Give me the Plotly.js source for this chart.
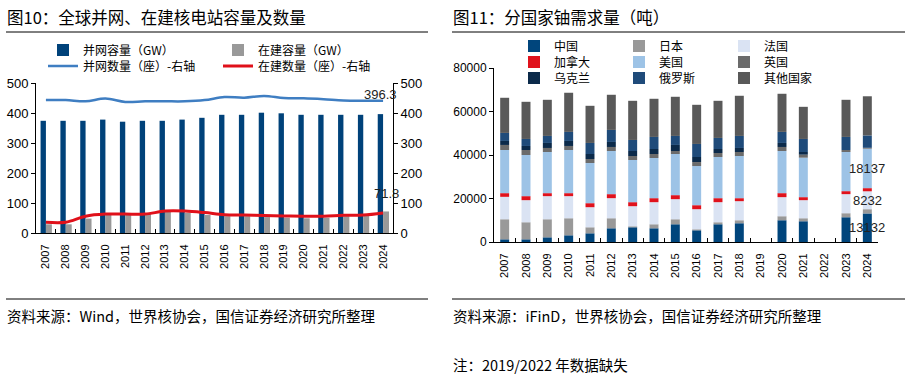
<!DOCTYPE html>
<html><head><meta charset="utf-8">
<script src="https://cdn.plot.ly/plotly-3.0.1.min.js"></script>
<style>html,body{margin:0;padding:0;background:#fff;} #chart{width:914px;height:378px;}</style>
</head><body><div id="chart"></div>
<script>
// ---------- Left chart data (图10) ----------
const years = ['2007','2008','2009','2010','2011','2012','2013','2014','2015','2016','2017','2018','2019','2020','2021','2022','2023','2024'];
const gridCapacityGW = [374,374,374,378,371,374,374,378,384,394,394,401,399,394,394,394,394,396.3];
const constructionCapacityGW = [29,29,48,63,63,63,70,67,60,56,56,53,51,49,51,56,59,71.8];
const gridReactors = [443,443,439,448,437,439,439,439,443,453,451,457,450,449,446,442,441,441];
const constructionReactors = [36,36,56,63,63,63,73,73,68,61,60,58,57,56,56,59,60,67];

// ---------- Right chart data (图11), tonnes ----------
const demandYears = years;
const china   = [1230,1230,2150,3080,4000,6310,6770,6310,8150,5380,8150,8620,null,10000,9540,null,11380,13132];
const japan   = [9230,7850,8310,7840,2770,4610,460,1840,2310,470,930,1380,null,1850,1380,null,1850,1950];
const france  = [10310,10150,10620,10160,9230,9230,9230,10160,9230,9230,9230,8770,null,8770,8310,null,8770,8232];
const canada  = [1690,1850,1380,1380,1850,1850,1850,1840,1850,1840,1840,1380,null,1840,1390,null,1380,1450];
const usa     = [19850,18920,18920,19850,18460,19850,19380,18470,18920,18000,18930,19390,null,19390,18150,null,18000,18137];
const uk      = [2310,2310,1850,1840,1840,1840,1850,1840,1390,1850,1840,1840,null,1840,1380,null,930,400];
const ukraine = [1840,1840,2310,2310,2310,2310,2310,2310,2770,2310,1850,1850,null,1850,1230,null,0,0];
const russia  = [3690,3230,3230,4160,5080,5540,5070,5540,4150,6000,5080,5540,null,5080,6000,null,6000,5700];
const others  = [16160,17080,16610,18000,17080,16150,18000,17540,18000,18000,17070,18460,null,17530,14770,null,17070,18000];
const countryNames = ['中国','日本','法国','加拿大','美国','英国','乌克兰','俄罗斯','其他国家'];

const CJK = '"Noto Sans CJK SC", "Noto Sans", sans-serif';
const NUM = '"Liberation Sans", Arial, sans-serif';
const W = 914, H = 378;
const px = v => v / W;
const py = v => 1 - v / H;

const traces = [];
// left bars
traces.push({type:'bar', name:'并网容量（GW）', x:years, y:gridCapacityGW, xaxis:'x', yaxis:'y',
  offset:-0.27, width:0.27, marker:{color:'#00427A'}, legend:'legend', hoverinfo:'skip'});
traces.push({type:'bar', name:'在建容量（GW）', x:years, y:constructionCapacityGW, xaxis:'x', yaxis:'y',
  offset:0, width:0.3, marker:{color:'#999999'}, legend:'legend', hoverinfo:'skip'});
traces.push({type:'scatter', mode:'lines', name:'并网数量（座）-右轴', x:years, y:gridReactors, xaxis:'x', yaxis:'y2',
  line:{color:'#3F7EC2', width:2.5, shape:'spline', smoothing:1}, legend:'legend3', hoverinfo:'skip'});
traces.push({type:'scatter', mode:'lines', name:'在建数量（座）-右轴', x:years, y:constructionReactors, xaxis:'x', yaxis:'y2',
  line:{color:'#E0101A', width:3, shape:'spline', smoothing:1}, legend:'legend3', hoverinfo:'skip'});

// right stacked bars (stack built with base from the series)
const series = [china, japan, france, canada, usa, uk, ukraine, russia, others];
const colors = ['#00457C','#999999','#DAE3F3','#E0121C','#9DC3E6','#6B6B6B','#0B2A4A','#1F4B7A','#595959'];
const legendFor = ['legend2','legend2','legend2','legend4','legend4','legend4','legend5','legend5','legend5'];
let cum = demandYears.map(() => 0);
const bases = [];
series.forEach((s, i) => {
  const base = cum.slice();
  bases.push(base);
  traces.push({type:'bar', name:countryNames[i], x:demandYears,
    y:s, base:s.map((v, j) => v === null ? null : base[j]),
    xaxis:'x3', yaxis:'y3', width:0.42, marker:{color:colors[i]}, legend:legendFor[i], hoverinfo:'skip'});
  cum = cum.map((c, j) => c + (s[j] || 0));
});

const last = demandYears.length - 1;
const annotations = [
  {xref:'paper', yref:'paper', x:px(5), y:py(17), xanchor:'left', yanchor:'middle', showarrow:false,
   text:'图10：全球并网、在建核电站容量及数量', font:{family:CJK, size:16.5, color:'#000'}},
  {xref:'paper', yref:'paper', x:px(451), y:py(17), xanchor:'left', yanchor:'middle', showarrow:false,
   text:'图11：分国家铀需求量（吨）', font:{family:CJK, size:16.5, color:'#000'}},
  {xref:'paper', yref:'paper', x:px(5), y:py(315), xanchor:'left', yanchor:'middle', showarrow:false,
   text:'资料来源：Wind，世界核协会，国信证券经济研究所整理', font:{family:CJK, size:14.5, color:'#000'}},
  {xref:'paper', yref:'paper', x:px(451), y:py(315), xanchor:'left', yanchor:'middle', showarrow:false,
   text:'资料来源：iFinD，世界核协会，国信证券经济研究所整理', font:{family:CJK, size:14.5, color:'#000'}},
  {xref:'paper', yref:'paper', x:px(451), y:py(364), xanchor:'left', yanchor:'middle', showarrow:false,
   text:'注：2019/2022 年数据缺失', font:{family:CJK, size:14.5, color:'#000'}},
  // left data labels (category index used as x position)
  {xref:'x', yref:'y', x:last, y:gridCapacityGW[last], xanchor:'center', yanchor:'bottom', yshift:10, xshift:-3,
   showarrow:false, text:String(gridCapacityGW[last]), font:{family:NUM, size:13, color:'#222'}},
  {xref:'x', yref:'y', x:last, y:constructionCapacityGW[last], xanchor:'center', yanchor:'bottom', yshift:8, xshift:3,
   showarrow:false, text:String(constructionCapacityGW[last]), font:{family:NUM, size:13, color:'#222'}},
];
// right data labels for 2024 (中国, 法国, 美国)
[0, 2, 4].forEach(i => {
  annotations.push({xref:'x3', yref:'y3', x:last, y:bases[i][last] + series[i][last] / 2,
    xanchor:'center', yanchor:'middle', showarrow:false, text:String(series[i][last]),
    font:{family:NUM, size:13, color:'#222'}});
});

const line = (x0, x1, y) => ({type:'line', xref:'paper', yref:'paper', x0:px(x0), x1:px(x1), y0:py(y), y1:py(y),
  line:{color:'#000', width:1}});
const shapes = [line(6, 428, 32), line(452, 905, 32), line(6, 428, 299), line(452, 905, 299)];

const axisCommon = {showline:true, linecolor:'#000', linewidth:1, showgrid:false, zeroline:false, color:'#000'};
const legendCommon = {orientation:'h', xanchor:'left', yanchor:'middle', bgcolor:'rgba(0,0,0,0)',
  font:{family:CJK, size:12, color:'#000'}, traceorder:'normal'};

const layout = {
  width:W, height:H, margin:{l:0, r:0, t:0, b:0},
  paper_bgcolor:'#fff', plot_bgcolor:'#fff',
  barmode:'overlay', showlegend:true,
  xaxis:Object.assign({}, axisCommon, {domain:[px(36), px(393)], anchor:'y', type:'category', range:[-0.5, 17.5],
    ticks:'inside', tickson:'boundaries', ticklen:4, tickangle:-90, ticklabelstandoff:6,
    tickfont:{family:NUM, size:11, color:'#000'}}),
  yaxis:Object.assign({}, axisCommon, {domain:[py(233), py(83)], anchor:'x', range:[0, 500], dtick:100,
    ticks:'outside', ticklen:4, tickfont:{family:NUM, size:13, color:'#000'}}),
  yaxis2:Object.assign({}, axisCommon, {overlaying:'y', anchor:'x', side:'right', range:[0, 500], dtick:100,
    ticks:'outside', ticklen:4, tickfont:{family:NUM, size:13, color:'#000'}}),
  xaxis3:Object.assign({}, axisCommon, {domain:[px(494), px(878)], anchor:'y3', type:'category', range:[-0.5, 17.5],
    ticks:'inside', tickson:'boundaries', ticklen:4, tickangle:-90, ticklabelstandoff:6,
    tickfont:{family:NUM, size:11, color:'#000'}}),
  yaxis3:Object.assign({}, axisCommon, {domain:[py(242), py(68)], anchor:'x3', range:[0, 80000], dtick:20000,
    tickformat:'d', ticks:'outside', ticklen:4, tickfont:{family:NUM, size:12, color:'#000'}}),
  legend:Object.assign({}, legendCommon, {x:px(43), y:py(50), entrywidth:130}),
  legend3:Object.assign({}, legendCommon, {x:px(43), y:py(66), entrywidth:130}),
  legend2:Object.assign({}, legendCommon, {x:px(514), y:py(46), entrywidth:60}),
  legend4:Object.assign({}, legendCommon, {x:px(514), y:py(62), entrywidth:60}),
  legend5:Object.assign({}, legendCommon, {x:px(514), y:py(78), entrywidth:60}),
  annotations:annotations, shapes:shapes
};

Plotly.newPlot('chart', traces, layout, {staticPlot:true, displayModeBar:false});
</script>
</body></html>
